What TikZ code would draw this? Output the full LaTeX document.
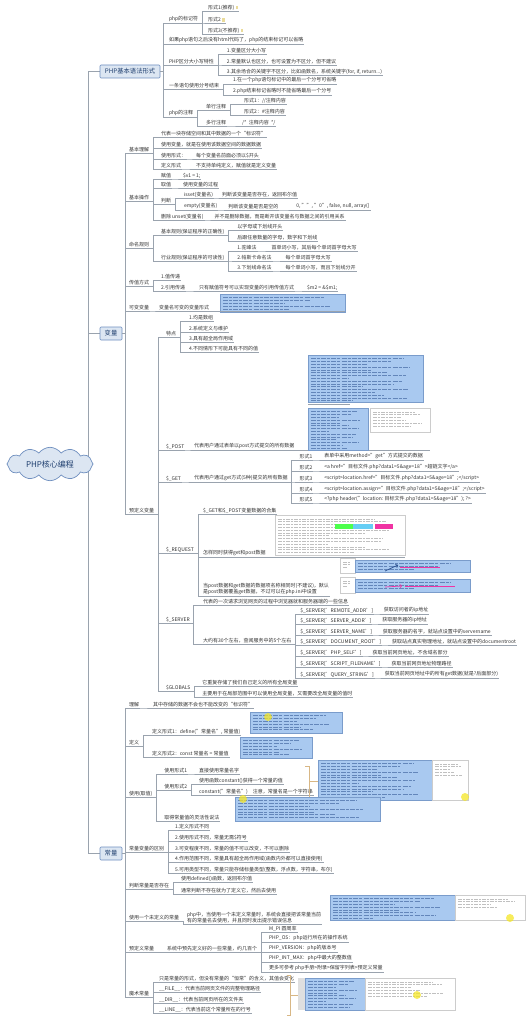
\documentclass[tikz,border=0pt]{standalone}
\usepackage{fontspec}
\setmainfont{Noto Sans CJK SC}
\usetikzlibrary{shapes.symbols,backgrounds}
\definecolor{lnc}{HTML}{9AA3AE}
\definecolor{txc}{HTML}{333333}
\definecolor{bxf}{HTML}{DCE6F2}
\definecolor{bxd}{HTML}{6F8FBF}
\definecolor{bxt}{HTML}{1F3F6F}
\definecolor{shf}{HTML}{A9C9F0}
\definecolor{shd}{HTML}{7A9CCB}
\definecolor{cdl}{HTML}{2B4F8F}
\definecolor{brc}{HTML}{D8B785}
\definecolor{icc}{HTML}{EADB9A}
\definecolor{hlc}{HTML}{F5E626}
\newcommand\fs{\fontsize{5}{6.3}\selectfont}
\newcommand\ic{\hspace{1.2pt}\textcolor{icc}{\rule{2.6pt}{3.2pt}}}
\newcommand\lnk[2]{\draw[conn] (#1.south east) -- ++(3pt,0) |- (#2.south west);}
\newcommand\kid[5][10]{\node[t,xshift=#1pt] (#3) at (#2.south east |- 0,#4) {#5};\lnk{#2}{#3}}
\newcommand\kida[5]{\node[t] (#2) at (#3,#4) {#5};\lnk{#1}{#2}}
\newcommand\fk[4]{\node[t] (#2) at (#3) {#4};\draw[conn] (#1.east) -- ++(3pt,0) |- (#2.south west);}
\newcommand\shot[5]{\filldraw[shotst] (#1,#2) rectangle (#3,#4);
 \foreach \nn in {1,...,#5}{\pgfmathsetmacro\lenx{(#3-#1-6)*(0.3+0.6*abs(sin(\nn*67)))}\draw[codeln] (#1+3,#2+1+2.8*\nn) -- ++(\lenx pt,0);}}
\newcommand\wshot[5]{\filldraw[wst] (#1,#2) rectangle (#3,#4);
 \foreach \nn in {1,...,#5}{\pgfmathsetmacro\lenx{(#3-#1-6)*(0.3+0.6*abs(sin(\nn*53)))}\draw[wln] (#1+3,#2+1+2.8*\nn) -- ++(\lenx pt,0);}}
\newcommand\hl[2]{\fill[hlc,opacity=.75] (#1,#2) circle (4pt);}
\tikzset{
 ul/.style={draw=lnc,line width=.45pt},
 conn/.style={draw=lnc,line width=.45pt},
 trunk/.style={draw=lnc,line width=.6pt},
 t/.style={anchor=south west,inner xsep=.8pt,inner ysep=.7pt,font=\fs,text=txc,align=left,
   append after command={(\tikzlastnode.south west) edge[ul] (\tikzlastnode.south east)}},
 bx/.style={draw=bxd,fill=bxf,line width=.6pt,rounded corners=1pt,text=bxt,inner sep=1pt,font=\fontsize{6.3}{7}\selectfont},
 shotst/.style={fill=shf,draw=shd,line width=.3pt},
 wst/.style={fill=white,draw=gray!40,line width=.3pt},
 codeln/.style={draw=cdl,line width=.7pt,opacity=.55,dash pattern=on 5pt off 1pt on 3pt off 1.2pt},
 wln/.style={draw=gray!70,line width=.6pt,opacity=.7,dash pattern=on 4pt off 1pt on 2pt off 1pt},
 brk/.style={draw=brc,line width=.6pt},
}
\begin{document}
\begin{tikzpicture}[x=1pt,y=-1pt]
\useasboundingbox (0,0) rectangle (532,1019);
% root and main boxes
\node[cloud,cloud puffs=12,cloud puff arc=110,aspect=2.7,draw=bxd,fill=bxf,line width=.7pt,
  minimum width=86pt,minimum height=32pt,inner sep=0pt,font=\fontsize{8}{9}\selectfont,text=bxt] (root) at (50,464) {PHP核心编程};
\node[bx,minimum width=60pt,minimum height=13pt] (A) at (130,71.5) {PHP基本语法形式};
\node[bx,minimum width=22pt,minimum height=13pt] (B) at (111,333.5) {变量};
\node[bx,minimum width=22pt,minimum height=13pt] (C) at (111,853.5) {常量};
\begin{scope}[on background layer]
\fill[white] (0,0) rectangle (532,1019);
\draw[trunk] ([xshift=-5pt]root.east) |- (A.west);
\draw[trunk] ([xshift=-5pt]root.east) |- (B.west);
\draw[trunk] ([xshift=-5pt]root.east) |- (C.west);
\end{scope}
% ---------- A ----------
\fk{A}{a1}{168,23}{php的标记符}
\kid[8]{a1}{a11}{11}{形式1(推荐)\ic}
\kid[8]{a1}{a12}{23}{形式2\ic}
\kid[8]{a1}{a13}{34}{形式3(不推荐)\ic}
\fk{A}{a2}{168,44}{如果php语句之后没有html代码了，php的结束标记可以省略}
\fk{A}{a3}{168,65}{PHP区分大小写特性}
\kid[11]{a3}{a31}{54}{1.变量区分大小写}
\kid[11]{a3}{a32}{65}{2.常量默认也区分，也可设置为不区分，但不建议}
\kid[11]{a3}{a33}{75}{3.其余场合的关键字不区分，比如函数名，系统关键字(for, if, return...)}
\fk{A}{a4}{168,89}{一条语句使用分号结束}
\kid[12]{a4}{a41}{84}{1.在一个php语句标记中的最后一个分号可省略}
\kid[12]{a4}{a42}{95}{2.php结束标记省略时不能省略最后一个分号}
\fk{A}{a5}{168,117}{php的注释}
\kid[11]{a5}{a51}{110}{单行注释}
\kid[11]{a5}{a52}{126}{多行注释}
\kid[16]{a51}{a511}{104}{形式1：//注释内容}
\kid[16]{a51}{a512}{115}{形式2：\#注释内容}
\kid[14]{a52}{a521}{126}{/*\ \ 注释内容\ \ */}
% ---------- B ----------
\fk{B}{b1}{128,153}{基本理解}
\kid[10]{b1}{b11}{137}{代表一块存储空间和其中数据的一个“标识符”}
\kid[10]{b1}{b12}{148}{使用变量，就是在使用该数据空间的数据数据}
\kid[10]{b1}{b13}{159}{使用形式：}
\kid[10]{b1}{b14}{169}{定义形式}
\kid[8]{b13}{b131}{159}{每个变量名前面必须以\$开头}
\kid[13]{b14}{b141}{169}{不支持单纯定义，赋值就是定义变量}
\fk{B}{b2}{128,201}{基本操作}
\kid[10]{b2}{b21}{179}{赋值}
\kid[10]{b2}{b22}{188}{取值}
\kid[10]{b2}{b23}{204}{判断}
\kid[10]{b2}{b24}{220}{删除 unset(变量名)}
\kid[10]{b21}{b211}{179}{\$v1 = 1;}
\kid[10]{b22}{b221}{188}{使用变量的过程}
\kid[11]{b23}{b231}{198}{isset(变量名)}
\kid[11]{b23}{b232}{210}{empty(变量名)}
\kid[7]{b231}{b2311}{198}{判断该变量是否存在，返回布尔值}
\kid[9]{b232}{b2321}{210}{判断该变量是否是空的}
\kid[16]{b2321}{b23211}{210}{0, "", "0", false, null, array()}
\kid[9]{b24}{b241}{220}{并不是删除数据，而是断开该变量名与数据之间的引用关系}
\fk{B}{b3}{128,248}{命名规则}
\kid[10]{b3}{b31}{235}{基本规则(保证程序的正确性)}
\kid[10]{b3}{b32}{261}{行业规则(保证程序的可读性)}
\kid[11]{b31}{b311}{230}{以字母或下划线开头}
\kid[11]{b31}{b312}{241}{后跟任意数量的字母，数字和下划线}
\kid[11]{b32}{b321}{251}{1.驼峰法}
\kid[11]{b32}{b322}{261}{2.帕斯卡命名法}
\kid[11]{b32}{b323}{271}{3.下划线命名法}
\kid[13]{b321}{b3211}{251}{首单词小写，其后每个单词首字母大写}
\kid[12]{b322}{b3221}{261}{每个单词首字母大写}
\kid[12]{b323}{b3231}{271}{每个单词小写，而且下划线分开}
\fk{B}{b4}{128,286}{传值方式}
\kid[10]{b4}{b41}{280}{1.值传递}
\kid[10]{b4}{b42}{291}{2.引用传递}
\kid[12]{b42}{b421}{291}{只有赋值符号可以实现变量的引用传值方式}
\kid[11]{b421}{b4211}{291}{\$m2 = \&\$m1;}
\fk{B}{b5}{128,311}{可变变量}
\kid[8]{b5}{b51}{311}{变量名可变的变量形式}
\shot{220}{294}{345}{312}{5}
\draw[conn] (b51.south east) -- (b51.south east -| 345,0);
\fk{B}{b6}{128,514}{预定义变量}
\kida{b6}{b61}{165}{337}{特点}
\kid[11]{b61}{b611}{321}{1.均是数组}
\kid[11]{b61}{b612}{332}{2.系统定义与维护}
\kid[11]{b61}{b613}{342}{3.具有超全局作用域}
\kid[11]{b61}{b614}{352}{4.不同情形下可能具有不同的值}
\kida{b6}{b62}{165}{450}{\$\_POST}
\kida{b62}{b621}{193}{450}{代表用户通过表单以post方式提交的所有数据}
\draw[conn] (b621.south east) -- (b621.south east -| 430,0);
\shot{308}{355}{423}{402}{16}
\draw[conn] (308,404) -- (350,404);
\shot{308}{408}{368}{450}{14}
\wshot{370}{408}{430}{432}{6}
\kida{b6}{b63}{165}{482}{\$\_GET}
\kida{b63}{b631}{193}{482}{代表用户通过get方式(5种)提交的所有数据}
\kid[10]{b631}{g1}{460}{形式1}
\kid[10]{b631}{g2}{471}{形式2}
\kid[10]{b631}{g3}{482}{形式3}
\kid[10]{b631}{g4}{493}{形式4}
\kid[10]{b631}{g5}{503}{形式5}
\kid[10]{g1}{g11}{460}{表单中采用method="get"方式提交的数据}
\kid[10]{g2}{g21}{471}{<a href="目标文件.php?data1=5\&age=18">超链文字</a>}
\kid[10]{g3}{g31}{482}{<script>location.href="目标文件.php?data1=5\&age=18";</script>}
\kid[10]{g4}{g41}{493}{<script>location.assign="目标文件.php?data1=5\&age=18";</script>}
\kid[10]{g5}{g51}{503}{<?php header("location: 目标文件.php?data1=5\&age=18"); ?>}
\kida{b6}{b64}{165}{553}{\$\_REQUEST}
\kida{b64}{b641}{202}{514}{\$\_GET和\$\_POST变量数据的合集}
\kida{b64}{b642}{202}{557}{怎样同时获得get和post数据}
\kida{b64}{b643}{202}{596}{当post数据和get数据的数据项名称相同时(不建议)，默认\\是post数据覆盖get数据，不过可以在php.ini中设置}
\wshot{275}{515}{405}{555}{13}
\fill[green!70] (335,524) rectangle (353,529);
\fill[cyan!60] (353,524) rectangle (373,529);
\fill[magenta!80] (375,524) rectangle (393,529);
\draw[conn] (b642.south east) -- (b642.south east -| 405,0);
\wshot{340}{558}{355}{573}{3}
\shot{355}{560}{470}{572}{3}
\draw[magenta!80,line width=.8pt] (400,567) -- (440,567);
\draw[cdl,line width=.7pt,->] (385,571) -- (398,565);
\wshot{340}{577}{355}{593}{3}
\shot{355}{579}{470}{592}{3}
\draw[magenta!80,line width=.8pt] (405,586) -- (455,586);
\draw[magenta!80,line width=.7pt,->] (385,587) -- (402,586);
\kida{b6}{b65}{165}{623}{\$\_SERVER}
\kida{b65}{b651}{202}{605}{代表的一次请求浏览网页的过程中浏览器就和服务器端的一些信息}
\kida{b65}{b652}{202}{644}{大约有30个左右，查阅服务中的5个左右}
\kid[7]{b652}{s1}{614}{\$\_SERVER['REMOTE\_ADDR']}
\kid[7]{b652}{s2}{624}{\$\_SERVER['SERVER\_ADDR']}
\kid[7]{b652}{s3}{635}{\$\_SERVER['SERVER\_NAME']}
\kid[7]{b652}{s4}{645}{\$\_SERVER['DOCUMENT\_ROOT']}
\kid[7]{b652}{s5}{656}{\$\_SERVER['PHP\_SELF']}
\kid[7]{b652}{s6}{667}{\$\_SERVER['SCRIPT\_FILENAME']}
\kid[7]{b652}{s7}{678}{\$\_SERVER['QUERY\_STRING']}
\kid[9]{s1}{s11}{614}{获取访问者的ip地址}
\kid[9]{s2}{s21}{624}{获取服务器的ip地址}
\kid[9]{s3}{s31}{635}{获取服务器的名字，就站点设置中的servername}
\kid[9]{s4}{s41}{645}{获取站点真实物理地址，就站点设置中的documentroot}
\kid[9]{s5}{s51}{656}{获取当前网页地址，不含域名部分}
\kid[9]{s6}{s61}{667}{获取当前网页地址物理路径}
\kid[9]{s7}{s71}{678}{获取当前网页地址中的所有get数据(就是?后面部分)}
\kida{b6}{b66}{165}{691}{\$GLOBALS}
\kid[10]{b66}{b661}{686}{它重复存储了我们自己定义的所有全局变量}
\kid[10]{b66}{b662}{697}{主要用于在局部范围中可以使用全局变量，又需要改全局变量的值时}
% ---------- C ----------
\fk{C}{c1}{128,708}{理解}
\kid[12]{c1}{c11}{708}{其中存储的数据不会也不能改变的“标识符”}
\fk{C}{c2}{128,746}{定义}
\kid[11]{c2}{c21}{735}{定义形式1：define("常量名", 常量值)}
\kid[11]{c2}{c22}{757}{定义形式2：const 常量名 = 常量值}
\shot{250}{712}{342}{733}{6}
\hl{268}{717}
\shot{240}{737}{312}{758}{6}
\fk{C}{c3}{128,797}{使用(取值)}
\kid[10]{c3}{c31}{774}{使用形式1}
\kid[10]{c3}{c32}{790}{使用形式2}
\kid[10]{c3}{c33}{821}{取得常量值的灵活性说法}
\kid[10]{c31}{c311}{774}{直接使用常量名字}
\kid[10]{c32}{c321}{784}{使用函数constant()获得一个常量的值}
\kid[10]{c32}{c322}{795}{constant("常量名")\quad 注意，常量名是一个字符串}
\draw[brk] (305,766) -- (309,766) -- (309,797) -- (305,797);
\draw[brk] (309,781) -- (318,781);
\shot{318}{760}{432}{800}{13}
\wshot{432}{760}{468}{800}{5}
\hl{465}{797}
\shot{235}{797}{380}{821}{7}
\hl{243}{799}
\fk{C}{c4}{128,852}{常量变量的区别}
\kid[9]{c4}{c41}{830}{1.定义形式不同}
\kid[9]{c4}{c42}{841}{2.使用形式不同，常量无需\$符号}
\kid[9]{c4}{c43}{852}{3.可变程度不同，常量的值不可以改变，不可以删除}
\kid[9]{c4}{c44}{862}{4.作用范围不同，常量具有超全局作用域(函数内外都可以直接使用)}
\kid[9]{c4}{c45}{873}{5.可用类型不同，常量只能存储标量类型(整数，浮点数，字符串，布尔)}
\fk{C}{c5}{128,889}{判断常量是否存在}
\kid[10]{c5}{c51}{882}{使用defined()函数，返回布尔值}
\kid[10]{c5}{c52}{894}{通常判断不存在就为了定义它，然后去使用}
\fk{C}{c6}{128,921}{使用一个未定义的常量}
\kid[6]{c6}{c61}{924}{php中，当使用一个未定义常量时，系统会直接把该常量当前\\有的常量名去使用，并且同时发出提示错误信息}
\shot{330}{895}{455}{920}{8}
\wshot{455}{895}{525}{920}{4}
\hl{510}{918}
\fk{C}{c7}{128,952}{预定义常量}
\kid[11]{c7}{c71}{952}{系统中预先定义好的一些常量，约几百个}
\kid[10]{c71}{k1}{932}{M\_PI 圆周率}
\kid[10]{c71}{k2}{942}{PHP\_OS：php运行所在的操作系统}
\kid[10]{c71}{k3}{952}{PHP\_VERSION：php的版本号}
\kid[10]{c71}{k4}{962}{PHP\_INT\_MAX：php中最大的整数值}
\kid[10]{c71}{k5}{972}{更多可参考 php手册>附录>保留字列表>预定义常量}
\fk{C}{c8}{128,997}{魔术常量}
\kid[8]{c8}{m1}{982}{只是常量的形式，但没有常量的“恒常”的含义，其值会变化}
\kid[8]{c8}{m2}{992}{\_\_FILE\_\_：代表当前网页文件的完整物理路径}
\kid[8]{c8}{m3}{1003}{\_\_DIR\_\_：代表当前网页所在的文件夹}
\kid[8]{c8}{m4}{1013}{\_\_LINE\_\_：代表当前这个常量所在的行号}
\draw[brk] (287,975) -- (290,975) -- (290,1015) -- (287,1015);
\draw[brk] (290,995) -- (298,995);
\fill[gray!25] (298,978) rectangle (305,1010);
\shot{305}{978}{365}{1010}{10}
\wshot{365}{978}{455}{1010}{6}
\hl{417}{995}
\end{tikzpicture}
\end{document}
